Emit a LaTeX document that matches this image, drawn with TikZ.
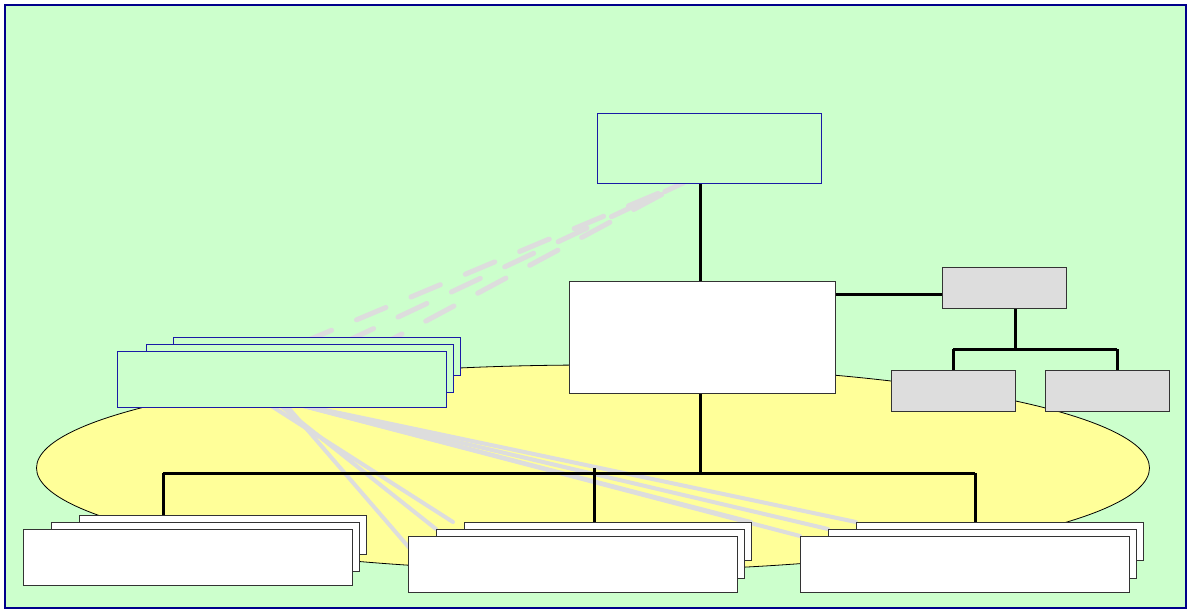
\documentclass[tikz,border=0pt]{standalone}
\usetikzlibrary{shapes.geometric}
\begin{document}
\begin{tikzpicture}[x=1pt,y=-1pt,
  every node/.style={inner sep=0pt,outer sep=0pt},
  greenbox/.style={draw=boxblue,fill=bggreen,line width=0.9pt},
  whitebox/.style={draw=boxgray,fill=white,line width=0.9pt},
  greybox/.style={draw=boxgray,fill=fillgrey,line width=0.9pt},
  conn/.style={line width=3pt,draw=black},
  lightline/.style={line width=4pt,draw=linegrey,line cap=round},
  lightdash/.style={line width=5pt,draw=linegrey,line cap=round,dash pattern=on 32pt off 27pt}]
\definecolor{bggreen}{HTML}{CCFFCC}
\definecolor{ellyellow}{HTML}{FFFF99}
\definecolor{fillgrey}{HTML}{DDDDDD}
\definecolor{linegrey}{HTML}{DDDDDD}
\definecolor{boxblue}{HTML}{1A1AA6}
\definecolor{framenavy}{HTML}{00008B}
\definecolor{boxgray}{HTML}{333333}
\useasboundingbox (0,0) rectangle (1189,610);
\fill[white] (0,0) rectangle (1189,610);
% frame and ellipse
\path[fill=bggreen,draw=framenavy,line width=2pt] (5,5) rectangle (1186,608);
\node[ellipse,draw=black,fill=ellyellow,line width=0.8pt,minimum width=1113pt,minimum height=206pt] (ell) at (593,468) {};
% coordinates for the connector layout
\coordinate (busL) at (163,473);
\coordinate (busM) at (594,473);
\coordinate (busR) at (975,473);
\coordinate (gbusL) at (953,349);
\coordinate (gbusR) at (1117,349);
\coordinate (gbusM) at (1015,349);
% invisible placeholders of the boxes, used to route connectors behind them
\node[minimum width=329pt,minimum height=56pt] (g1h) at (281.5,379) {};
\node[minimum width=287pt,minimum height=38pt] (g3h) at (316.5,356) {};
\node[minimum width=224pt,minimum height=70pt] (toph) at (709,148) {};
\node[minimum width=329pt,minimum height=56pt] (m1h) at (572.5,564) {};
\node[minimum width=308pt,minimum height=49pt] (m2h) at (590,553.5) {};
\node[minimum width=287pt,minimum height=38pt] (m3h) at (607.5,541) {};
\node[minimum width=329pt,minimum height=56pt] (r1h) at (964.5,564) {};
\node[minimum width=308pt,minimum height=49pt] (r2h) at (982,553.5) {};
\node[minimum width=287pt,minimum height=38pt] (r3h) at (999.5,541) {};
\node[minimum width=266pt,minimum height=112pt] (midh) at (702,337) {};
\node[minimum width=124pt,minimum height=41pt] (grh) at (1004,287.5) {};
\node[minimum width=287pt,minimum height=39pt] (b3h) at (222.5,534.5) {};
% light grey connectors
\draw[lightline] ([xshift=0.2pt,yshift=7pt]g1h.south) -- ([xshift=4pt,yshift=-15pt]m1h.north west);
\draw[lightline] ([xshift=-8.2pt,yshift=7pt]g1h.south) -- (m2h.north west);
\draw[lightline] ([xshift=-19.5pt,yshift=7pt]g1h.south) -- ([xshift=-11pt]m3h.north west);
\draw[lightline] ([xshift=10.5pt,yshift=4pt]g1h.south) -- (m3h.north east);
\draw[lightline] ([xshift=10.5pt,yshift=4pt]g1h.south) -- (r1h.north west);
\draw[lightline] ([xshift=10.5pt,yshift=4pt]g1h.south) -- (r2h.north west);
\draw[lightline] ([xshift=10.5pt,yshift=4pt]g1h.south) -- (r3h.north west);
\draw[lightdash,dash phase=40pt] ([xshift=-32pt,yshift=-13pt]g3h.north) -- ([xshift=-26pt]toph.south);
\draw[lightdash,dash phase=40.7pt] ([xshift=11.5pt,yshift=-13pt]g3h.north) -- ([xshift=-26pt]toph.south);
\draw[lightdash,dash phase=57pt] ([xshift=55.5pt,yshift=-13pt]g3h.north) -- ([xshift=-26pt]toph.south);
% black connectors
\draw[conn] ([xshift=-9pt]toph.south) -- ([xshift=-2pt]midh.north);
\draw[conn] ([xshift=-2pt]midh.south) -- ([xshift=-2pt]midh.south |- busM);
\draw[conn] (busL) -- (busR);
\draw[conn] (busL) -- (busL |- b3h.north);
\draw[conn] ([yshift=5pt]busM) -- (busM |- m3h.north);
\draw[conn] (busR) -- (busR |- r3h.north);
\draw[conn] ([yshift=-13pt]midh.north east) -- ([yshift=-13pt]midh.north east -| grh.west);
\draw[conn] (gbusM |- grh.south) -- (gbusM);
\draw[conn] (gbusL) -- (gbusR);
\draw[conn] (gbusL) -- ++(0,21);
\draw[conn] (gbusR) -- ++(0,21);
% boxes
\node[greenbox,minimum width=224pt,minimum height=70pt] (top) at (709,148) {};
\node[whitebox,minimum width=266pt,minimum height=112pt] (mid) at (702,337) {};
\node[greybox,minimum width=124pt,minimum height=41pt] (gr) at (1004,287.5) {};
\node[greybox,minimum width=124pt,minimum height=41pt] (gr1) at (953,390.5) {};
\node[greybox,minimum width=124pt,minimum height=41pt] (gr2) at (1107,390.5) {};
\node[greenbox,minimum width=287pt,minimum height=38pt] (g3) at (316.5,356) {};
\node[greenbox,minimum width=307pt,minimum height=48pt] (g2) at (299.5,368) {};
\node[greenbox,minimum width=329pt,minimum height=56pt] (g1) at (281.5,379) {};
\node[whitebox,minimum width=287pt,minimum height=39pt] (b3) at (222.5,534.5) {};
\node[whitebox,minimum width=308pt,minimum height=49pt] (b2) at (205,546.5) {};
\node[whitebox,minimum width=329pt,minimum height=56pt] (b1) at (187.5,557) {};
\node[whitebox,minimum width=287pt,minimum height=38pt] (m3) at (607.5,541) {};
\node[whitebox,minimum width=308pt,minimum height=49pt] (m2) at (590,553.5) {};
\node[whitebox,minimum width=329pt,minimum height=56pt] (m1) at (572.5,564) {};
\node[whitebox,minimum width=287pt,minimum height=38pt] (r3) at (999.5,541) {};
\node[whitebox,minimum width=308pt,minimum height=49pt] (r2) at (982,553.5) {};
\node[whitebox,minimum width=329pt,minimum height=56pt] (r1) at (964.5,564) {};
\end{tikzpicture}
\end{document}
